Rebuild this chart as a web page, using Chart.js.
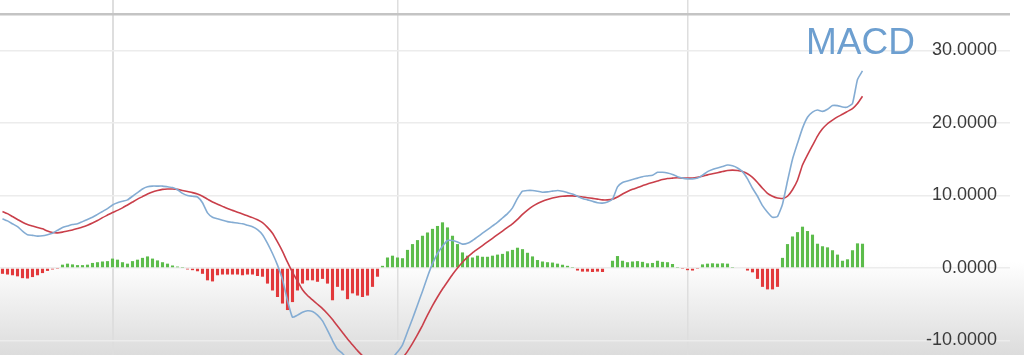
<!DOCTYPE html>
<html>
<head>
<meta charset="utf-8">
<script src="https://cdn.jsdelivr.net/npm/chart.js@4.4.1/dist/chart.umd.min.js"></script>
<style>
  html, body { margin: 0; padding: 0; }
  body {
    width: 1024px; height: 355px; overflow: hidden; position: relative;
    background: linear-gradient(to bottom, #ffffff 0px, #ffffff 262px, #f0f0f0 300px, #dcdcdc 355px);
  }
  #wrap { position: absolute; left: 0; top: 0; width: 1024px; height: 355px; }
  #title {
    position: absolute; left: 806px; top: 23px;
    font-family: "Liberation Sans", Arial, sans-serif; font-size: 37px; line-height: 37px;
    color: #6d9fd0; white-space: nowrap;
  }
</style>
</head>
<body>
<div id="wrap"><canvas id="c" width="1024" height="355"></canvas></div>
<div id="title">MACD</div>
<script>
// ---- data ----
const periodCount = 202;           // slots on the time axis (data fills the first 173)
const histogram = [
  -0.8, -0.9, -1.0, -1.15, -1.4, -1.45, -1.25, -1.0, -0.7, -0.4, -0.2,
  -0.05,
  0.46, 0.6, 0.5, 0.4, 0.4, 0.46, 0.7, 0.8, 0.9, 0.95, 1.3, 1.15, 0.8, 0.6, 0.95, 1.15, 1.4, 1.6, 1.3, 1.05, 0.8, 0.6, 0.35, 0.2, 0.05,
  -0.2, -0.3, -0.45, -0.8, -1.7, -1.85, -1.0, -0.9, -0.9, -0.9, -0.9, -1.0, -0.9, -0.9, -1.1, -1.2, -2.15, -3.1, -4.0, -4.9, -5.8, -4.7, -3.1, -2.15, -1.7, -1.7, -1.9, -1.5, -2.15, -4.45, -2.6, -3.1, -4.3, -3.5, -3.8, -4.0, -3.8, -2.6, -1.2,
  0.3, 1.45, 1.7, 1.45, 1.35, 2.5, 3.3, 3.85, 4.45, 4.9, 5.4, 5.8, 6.3, 5.6, 4.45, 3.3, 2.15, 1.7, 1.45, 1.7, 1.55, 1.55, 1.7, 1.85, 1.95, 2.3, 2.5, 2.8, 2.6, 2.1, 1.6, 1.1, 0.9, 0.8, 0.75, 0.6, 0.45, 0.3,
  0.05,
  -0.35, -0.5, -0.5, -0.55, -0.5, -0.55,
  -0.1,
  1.0, 1.65, 1.0, 0.8, 0.9, 0.95, 0.85, 0.65, 0.7, 1.0, 0.85, 0.8, 0.55,
  0.05, -0.05, -0.3, -0.35, -0.05,
  0.5, 0.6, 0.65, 0.6, 0.65, 0.6,
  0.05, -0.1,
  -0.1, -0.35, -0.6, -1.5, -2.6, -2.95, -2.95, -2.6,
  1.4, 3.3, 4.35, 4.95, 5.7, 5.1, 4.6, 3.35, 3.0, 2.85, 2.45, 1.85, 1.0, 1.2, 2.45, 3.4, 3.35
];
const macdLine = [
  6.8, 6.5, 6.1, 5.7, 5.1, 4.6, 4.5, 4.4, 4.45, 4.6,
  4.8, 5.2, 5.6, 5.8, 6.0, 6.1, 6.4, 6.7, 7.0, 7.4,
  7.8, 8.2, 8.7, 9.0, 9.2, 9.4, 9.9, 10.4, 10.9, 11.2,
  11.3, 11.3, 11.3, 11.2, 11.1, 10.8, 10.3, 10.0, 9.9, 9.8,
  9.0, 7.6, 7.0, 6.8, 6.6, 6.4, 6.3, 6.2, 6.1, 5.9,
  5.7, 5.3, 4.6, 3.4, 2.0, 0.4, -1.6, -4.5, -6.8, -6.5,
  -6.1, -5.9, -6.0, -6.5, -7.3, -8.6, -10.0, -11.2, -11.8, -12.6,
  -13.4, -14.0, -14.5, -14.8, -14.9, -14.6, -14.0, -13.2, -12.4, -11.6,
  -10.6, -8.8, -7.0, -5.1, -3.2, -1.2, 0.6, 2.0, 3.0, 3.8,
  3.8, 3.6, 3.3, 3.4, 3.8, 4.3, 4.8, 5.3, 5.8, 6.3,
  6.9, 7.5, 8.3, 9.6, 10.6, 10.7, 10.7, 10.6, 10.45, 10.5,
  10.6, 10.7, 10.6, 10.4, 10.2, 9.9, 9.6, 9.4, 9.2, 9.0,
  8.95, 9.1, 9.5, 11.2, 11.8, 12.0, 12.2, 12.4, 12.6, 12.7,
  12.8, 13.2, 13.2, 13.1, 12.9, 12.6, 12.4, 12.3, 12.3, 12.4,
  12.8, 13.3, 13.6, 13.8, 14.0, 14.2, 14.1, 13.8, 13.3, 12.3,
  11.0, 9.9, 8.6, 7.7, 7.0, 7.1, 8.8, 12.0, 15.0, 17.2,
  19.3, 20.8, 21.5, 21.8, 21.6, 21.9, 22.4, 22.4, 22.2, 22.2,
  22.7, 26.0, 27.2
];
const signalLine = [
  7.8, 7.5, 7.1, 6.7, 6.3, 6.0, 5.8, 5.6, 5.4, 5.1,
  4.9, 4.85, 4.95, 5.1, 5.25, 5.45, 5.65, 5.9, 6.2, 6.55,
  6.95, 7.3, 7.65, 7.95, 8.3, 8.7, 9.1, 9.5, 9.85, 10.2,
  10.5, 10.7, 10.85, 10.9, 10.9, 10.85, 10.7, 10.55, 10.4, 10.2,
  9.9, 9.5, 9.1, 8.8, 8.5, 8.2, 7.95, 7.7, 7.45, 7.2,
  6.95, 6.65, 6.25, 5.6, 4.8, 3.6, 2.3, 0.8, -0.6, -1.8,
  -3.0, -3.8, -4.4, -5.0, -5.6, -6.3, -7.1, -8.0, -8.9, -9.8,
  -10.6, -11.4, -12.1, -12.7, -13.1, -13.4, -13.5, -13.5, -13.3, -13.0,
  -12.4, -11.5, -10.4, -9.2, -7.9, -6.5, -5.2, -4.0, -2.9, -1.9,
  -0.9, 0.0, 0.8, 1.5, 2.1, 2.6, 3.1, 3.6, 4.1, 4.6,
  5.1, 5.6, 6.1, 6.7, 7.4, 8.0, 8.5, 8.9, 9.2, 9.45,
  9.65, 9.8, 9.9, 9.95, 9.95, 9.9, 9.8, 9.7, 9.6, 9.5,
  9.4, 9.4, 9.5, 9.8, 10.2, 10.55, 10.85, 11.1, 11.35, 11.6,
  11.8, 12.0, 12.2, 12.35, 12.4, 12.45, 12.4, 12.4, 12.4, 12.5,
  12.65, 12.85, 13.0, 13.15, 13.3, 13.45, 13.5, 13.45, 13.3, 13.0,
  12.5, 11.8, 11.0, 10.3, 9.9, 9.65, 9.6, 9.9, 10.8, 12.1,
  14.2, 15.6, 16.9, 18.2, 19.2, 19.9, 20.4, 20.85, 21.2, 21.6,
  22.0, 22.7, 23.7
];
const yTickValues = [-10, 0, 10, 20, 30];
const topRuleValue = 35;
const xGridIndices = [22, 79, 137];
const yMin = -12.0, yMax = 36.97;

const categories = [];
for (let i = 1; i <= periodCount; i++) categories.push(String(i));

new Chart(document.getElementById('c'), {
  type: 'bar',
  data: {
    labels: categories,
    datasets: [
      {
        type: 'line', label: 'MACD', data: macdLine, order: 1,
        borderColor: '#84acd3', borderWidth: 1.6, pointRadius: 0, tension: 0.15, fill: false
      },
      {
        type: 'line', label: 'Signal', data: signalLine, order: 2,
        borderColor: '#c93f4a', borderWidth: 1.6, pointRadius: 0, tension: 0.15, fill: false
      },
      {
        type: 'bar', label: 'Histogram', data: histogram, order: 3,
        backgroundColor: (ctx) => (ctx.raw >= 0 ? '#5cbc4b' : '#e2393b'),
        borderWidth: 0, barPercentage: 0.62, categoryPercentage: 1.0
      }
    ]
  },
  options: {
    responsive: false, animation: false,
    layout: { autoPadding: false, padding: { left: 0, right: 14, top: 0, bottom: 0 } },
    plugins: { legend: { display: false }, tooltip: { enabled: false }, title: { display: false } },
    scales: {
      x: {
        type: 'category', offset: true,
        border: { display: false },
        afterFit: (s) => { s.height = 0; },
        ticks: { display: false, autoSkip: false },
        grid: {
          offset: false, drawTicks: false,
          color: (ctx) => xGridIndices.includes(ctx.index) ? '#dedede' : 'rgba(0,0,0,0)',
          lineWidth: (ctx) => ctx.index === 22 ? 2 : 1.5
        }
      },
      y: {
        position: 'right', min: yMin, max: yMax,
        border: { display: false },
        afterFit: (s) => { s.width = 0; },
        afterBuildTicks: (scale) => {
          scale.ticks = yTickValues.concat([topRuleValue]).map(v => ({ value: v }));
        },
        ticks: {
          mirror: true, padding: -13, includeBounds: false,
          color: '#3a3a3a',
          font: { family: '"Liberation Sans", Arial, sans-serif', size: 18 },
          callback: (v) => (v === topRuleValue ? '' : Number(v).toFixed(4))
        },
        grid: {
          drawTicks: false,
          color: (ctx) => ctx.tick && ctx.tick.value === topRuleValue ? '#c4c4c4' : '#ececec',
          lineWidth: (ctx) => ctx.tick && ctx.tick.value === topRuleValue ? 2.5 : 1.5
        }
      }
    }
  }
});
</script>
</body>
</html>
